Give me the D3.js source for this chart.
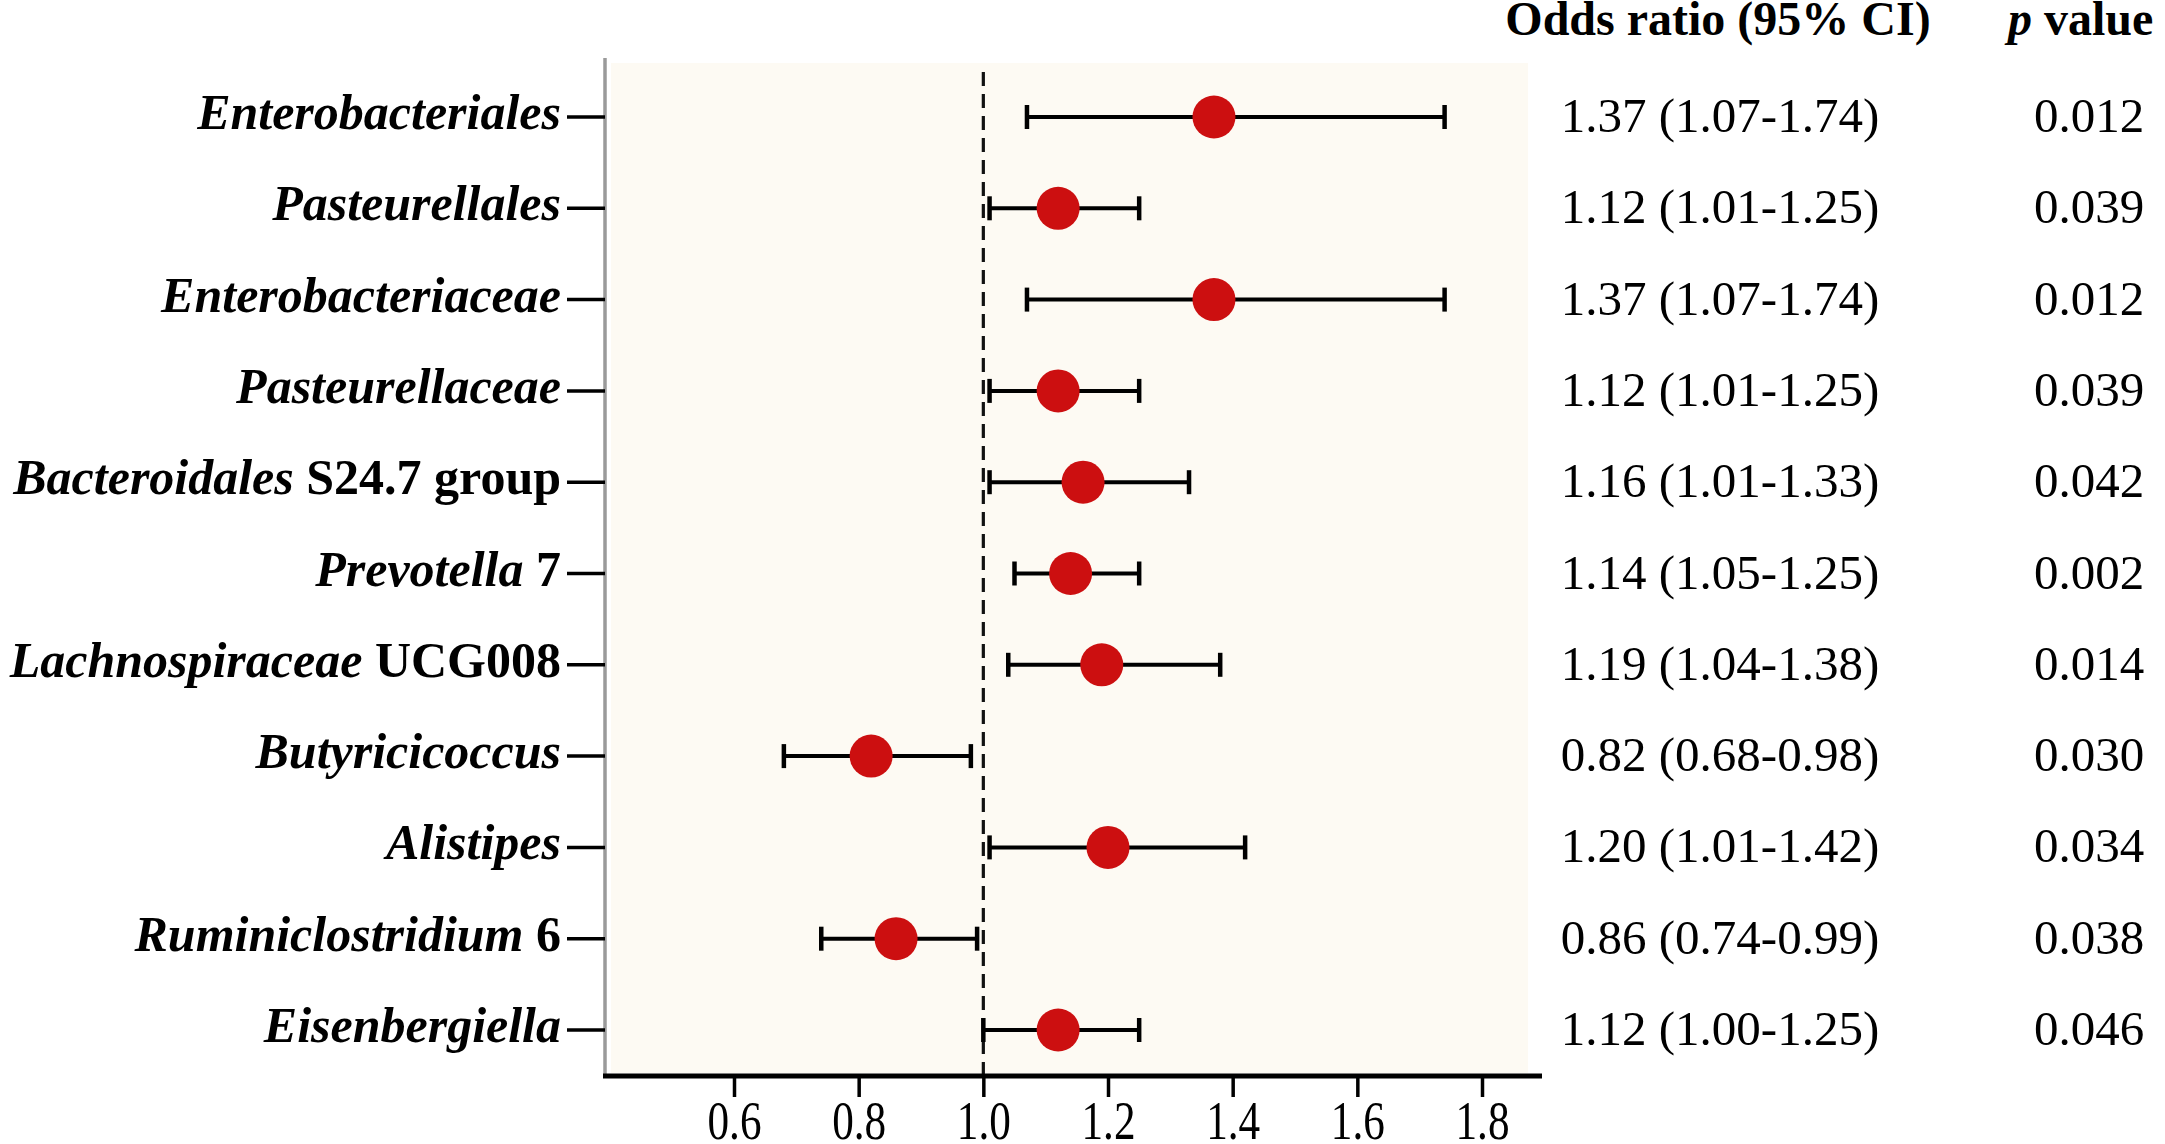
<!DOCTYPE html>
<html>
<head>
<meta charset="utf-8">
<script src="https://cdn.jsdelivr.net/npm/d3@7"></script>
<style>
	body { margin: 0; background: #fff; }
	svg { display: block; font-family: 'Liberation Serif', 'Times New Roman', serif; }
</style>
</head>
<body>
<svg id="forest"></svg>
<script>
var taxa = [ 'Enterobacteriales', 'Pasteurellales', 'Enterobacteriaceae', 'Pasteurellaceae',
	'Bacteroidales', 'Prevotella', 'Lachnospiraceae', 'Butyricicoccus', 'Alistipes',
	'Ruminiclostridium', 'Eisenbergiella' ];
var taxaSuffix = [ '', '', '', '', ' S24.7 group', ' 7', ' UCG008', '', '', ' 6', '' ];
var oddsRatio = [ 1.37, 1.12, 1.37, 1.12, 1.16, 1.14, 1.19, 0.82, 1.20, 0.86, 1.12 ];
var ciLow = [ 1.07, 1.01, 1.07, 1.01, 1.01, 1.05, 1.04, 0.68, 1.01, 0.74, 1.00 ];
var ciHigh = [ 1.74, 1.25, 1.74, 1.25, 1.33, 1.25, 1.38, 0.98, 1.42, 0.99, 1.25 ];
var pValues = [ '0.012', '0.039', '0.012', '0.039', '0.042', '0.002', '0.014', '0.030', '0.034', '0.038', '0.046' ];
var xTicks = [ 0.6, 0.8, 1.0, 1.2, 1.4, 1.6, 1.8 ];

var W = 2165, H = 1144;
var axisLeft = 605, axisRight = 1542, axisY = 1076, panelTop = 60;

var svg = d3.select( '#forest' ).attr( 'width', W ).attr( 'height', H );

var x = d3.scaleLinear().domain( [ 0.6, 1.8 ] ).range( [ 734, 1482 ] );
var y = d3.scalePoint().domain( d3.range( taxa.length ) ).range( [ 117, 1030 ] );

// panel background
svg.append( 'rect' )
	.attr( 'x', axisLeft + 6 ).attr( 'y', panelTop + 3 )
	.attr( 'width', 1528 - axisLeft - 6 ).attr( 'height', axisY - panelTop - 6 )
	.attr( 'fill', '#fdfaf3' );

// left (gray) axis
svg.append( 'line' )
	.attr( 'x1', axisLeft ).attr( 'x2', axisLeft )
	.attr( 'y1', panelTop - 2 ).attr( 'y2', axisY )
	.attr( 'stroke', '#9a9a9a' ).attr( 'stroke-width', 3.5 );

// reference line at OR = 1
svg.append( 'line' )
	.attr( 'x1', x( 1 ) ).attr( 'x2', x( 1 ) )
	.attr( 'y1', panelTop + 12 ).attr( 'y2', axisY )
	.attr( 'stroke', '#111' ).attr( 'stroke-width', 3.2 )
	.attr( 'stroke-dasharray', '14,8' );

// bottom axis (tick labels are tall and narrow in the original)
var xAxis = d3.axisBottom( x ).tickValues( xTicks ).tickSize( 21 ).tickPadding( 4 )
	.tickFormat( d3.format( '.1f' ) );
var gx = svg.append( 'g' ).attr( 'transform', 'translate(0,' + axisY + ')' ).call( xAxis );
gx.select( '.domain' ).remove();
gx.selectAll( '.tick line' ).attr( 'stroke', '#000' ).attr( 'stroke-width', 3.5 );
gx.selectAll( '.tick text' )
	.attr( 'fill', '#000' ).style( 'font-size', '54px' )
	.attr( 'transform', 'scale(0.8,1)' )
	.style( 'font-family', "'Liberation Serif', 'Times New Roman', serif" );
gx.append( 'line' )
	.attr( 'x1', axisLeft - 2 ).attr( 'x2', axisRight )
	.attr( 'stroke', '#000' ).attr( 'stroke-width', 5 );

// y ticks + labels
var rows = svg.selectAll( 'g.row' ).data( taxa ).enter().append( 'g' )
	.attr( 'class', 'row' )
	.attr( 'transform', function( d, i ) { return 'translate(0,' + y( i ) + ')'; } );

rows.append( 'line' )
	.attr( 'x1', 567 ).attr( 'x2', axisLeft )
	.attr( 'stroke', '#000' ).attr( 'stroke-width', 3.5 );

var lab = rows.append( 'text' )
	.attr( 'x', 561 ).attr( 'y', 12 )
	.attr( 'text-anchor', 'end' )
	.style( 'font-size', '50px' ).style( 'font-weight', 'bold' );
lab.append( 'tspan' ).style( 'font-style', 'italic' ).text( function( d ) { return d; } );
lab.append( 'tspan' ).text( function( d, i ) { return taxaSuffix[ i ]; } );

// confidence intervals
rows.append( 'line' )
	.attr( 'x1', function( d, i ) { return x( ciLow[ i ] ); } )
	.attr( 'x2', function( d, i ) { return x( ciHigh[ i ] ); } )
	.attr( 'stroke', '#000' ).attr( 'stroke-width', 4 );
[ ciLow, ciHigh ].forEach( function( arr ) {
	rows.append( 'line' )
		.attr( 'x1', function( d, i ) { return x( arr[ i ] ); } )
		.attr( 'x2', function( d, i ) { return x( arr[ i ] ); } )
		.attr( 'y1', -12 ).attr( 'y2', 12 )
		.attr( 'stroke', '#000' ).attr( 'stroke-width', 4.5 );
} );

rows.append( 'circle' )
	.attr( 'cx', function( d, i ) { return x( oddsRatio[ i ] ); } )
	.attr( 'r', 21.5 )
	.attr( 'fill', '#cc0f10' );

// right-hand columns
rows.append( 'text' )
	.attr( 'x', 1720 ).attr( 'y', 15 )
	.attr( 'text-anchor', 'middle' )
	.style( 'font-size', '49px' )
	.text( function( d, i ) {
		return oddsRatio[ i ].toFixed( 2 ) + ' (' + ciLow[ i ].toFixed( 2 ) + '-' + ciHigh[ i ].toFixed( 2 ) + ')';
	} );

rows.append( 'text' )
	.attr( 'x', 2089 ).attr( 'y', 15 )
	.attr( 'text-anchor', 'middle' )
	.style( 'font-size', '49px' )
	.text( function( d, i ) { return pValues[ i ]; } );

svg.append( 'text' )
	.attr( 'x', 1718 ).attr( 'y', 35 )
	.attr( 'text-anchor', 'middle' )
	.style( 'font-size', '48px' ).style( 'font-weight', 'bold' )
	.text( 'Odds ratio (95% CI)' );

var ph = svg.append( 'text' )
	.attr( 'x', 2008 ).attr( 'y', 35 )
	.style( 'font-size', '48px' ).style( 'font-weight', 'bold' );
ph.append( 'tspan' ).style( 'font-style', 'italic' ).text( 'p' );
ph.append( 'tspan' ).text( ' value' );
</script>
</body>
</html>
